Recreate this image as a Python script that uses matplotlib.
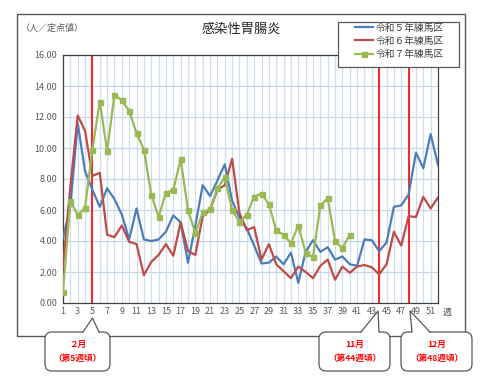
import matplotlib
matplotlib.use("Agg")
import matplotlib.pyplot as plt
from matplotlib.patches import FancyBboxPatch, Rectangle, Polygon
from matplotlib.lines import Line2D

plt.rcParams["font.family"] = ["Noto Sans CJK JP", "DejaVu Sans"]

W, H = 490, 386

# weekly values (per sentinel)
weeks_all = list(range(1, 53))
r5_nerima = [4.2, 6.2, 11.6, 8.5, 7.3, 6.2, 7.4, 6.7, 5.7, 4.1,
             6.1, 4.1, 4.0, 4.1, 4.6, 5.65, 5.2, 2.6, 5.0, 7.6,
             6.9, 7.9, 8.95, 6.6, 5.5, 4.8, 3.7, 2.55, 2.6, 3.0,
             2.5, 3.25, 1.3, 3.3, 4.05, 3.3, 3.6, 2.8, 3.0, 2.5,
             2.4, 4.1, 4.05, 3.35, 3.9, 6.2, 6.3, 7.0, 9.7, 8.7,
             10.9, 8.9]
r6_nerima = [2.3, 7.5, 12.1, 11.1, 8.2, 8.4, 4.4, 4.25, 5.0, 3.95,
             3.8, 1.8, 2.65, 3.1, 3.8, 3.05, 5.2, 3.35, 3.1, 5.6,
             6.0, 7.3, 7.6, 9.3, 5.8, 4.7, 4.9, 2.8, 3.8, 2.5,
             2.05, 1.6, 2.35, 2.0, 1.6, 2.4, 2.8, 1.5, 2.35, 1.95,
             2.35, 2.45, 2.3, 1.85, 2.5, 4.6, 3.7, 5.6, 5.55, 6.85,
             6.1, 6.8]
weeks_r7 = list(range(1, 41))
r7_nerima = [0.74, 6.6, 5.67, 6.15, 9.9, 13.0, 9.8, 13.45, 13.07, 12.4,
             10.95, 9.9, 7.0, 5.55, 7.1, 7.3, 9.26, 6.0, 4.5, 5.85,
             6.05, 7.4, 8.1, 5.97, 5.24, 5.7, 6.86, 7.06, 6.36, 4.7,
             4.4, 3.85, 5.0, 3.25, 2.95, 6.3, 6.75, 4.0, 3.55, 4.4]

series_labels = ["令和５年練馬区", "令和６年練馬区", "令和７年練馬区"]
marker_weeks = [5, 44, 48]
callout_lines = [("２月", "（第5週頃）"), ("11月", "（第44週頃）"), ("12月", "（第48週頃）")]

c_blue = "#4a7ebb"
c_red = "#be4b48"
c_green = "#98b954"
grey = "#595959"

fig = plt.figure(figsize=(W / 100, H / 100), dpi=100)

# ------------------------------------------------------------------
# main plot area
# ------------------------------------------------------------------
ax = fig.add_axes([63 / W, 1 - 303 / H, 375 / W, 248 / H], zorder=1)
ax.set_xlim(1, 52)
ax.set_ylim(0, 16)

for w in range(2, 52):
    ax.axvline(w, color="#d0ddef", lw=0.9, zorder=0)
for yv in range(2, 16, 2):
    ax.axhline(yv, color="#c8d6ea", lw=0.9, zorder=0)

for w in marker_weeks:
    ax.axvline(w, color="#ff0000", lw=1.2, zorder=2)

h5, = ax.plot(weeks_all, r5_nerima, color=c_blue, lw=1.6, zorder=3)
h6, = ax.plot(weeks_all, r6_nerima, color=c_red, lw=1.6, zorder=3)
h7, = ax.plot(weeks_r7, r7_nerima, color=c_green, lw=1.6, marker="s",
              ms=3.6, zorder=4)

ax.set_yticks(range(0, 17, 2))
ax.set_yticklabels([f"{v:.2f}" for v in range(0, 17, 2)])
ax.set_xticks(range(1, 52, 2))
ax.tick_params(length=0, labelsize=6.5, labelcolor=grey)
ax.tick_params(axis="y", pad=4)
ax.tick_params(axis="x", pad=3)
for s in ax.spines.values():
    s.set_color("#404040")
    s.set_linewidth(0.9)

# ------------------------------------------------------------------
# overlay in pixel coordinates: frame, titles, legend box, callouts
# ------------------------------------------------------------------
ov = fig.add_axes([0, 0, 1, 1], zorder=3)
ov.set_xlim(0, W)
ov.set_ylim(H, 0)
ov.axis("off")
ov.patch.set_alpha(0)

ov.add_patch(Rectangle((17, 14), 448, 322, fill=False, ec=grey, lw=1.0, zorder=1))
ov.text(241, 29, "感染性胃腸炎", ha="center", va="center", fontsize=9.5, color="#262626")
ov.text(21, 28, "（人／定点値）", ha="left", va="center", fontsize=6.5, color=grey)
ov.text(447, 312, "週", ha="center", va="center", fontsize=6.5, color=grey)

# legend frame
ov.add_patch(Rectangle((338, 22), 121, 45, fc="white", ec=grey, lw=0.9, zorder=2))

# callouts
boxes = [(45, 110, 83, 99, 92.5, 318),
         (319, 390, 361, 379, 378, 311),
         (401, 472, 412, 430, 410, 311)]
for (x0, x1, b0, b1, tx, ty), (l1, l2) in zip(boxes, callout_lines):
    ov.add_patch(FancyBboxPatch((x0, 332), x1 - x0, 39,
                                boxstyle="round,pad=0,rounding_size=7",
                                fc="white", ec=grey, lw=0.9, zorder=3))
    ov.add_patch(Polygon([(b0, 333), (tx, ty), (b1, 333)], closed=True,
                         fc="white", ec="none", zorder=4))
    ov.add_line(Line2D([b0, tx, b1], [332, ty, 332], color=grey, lw=0.9, zorder=5))
    cx = (x0 + x1) / 2
    ov.text(cx, 344, l1, ha="center", va="center", fontsize=6.2,
            color="#ff0000", fontweight="bold", zorder=6)
    ov.text(cx, 358, l2, ha="center", va="center", fontsize=6.2,
            color="#ff0000", fontweight="bold", zorder=6)

leg = fig.legend([h5, h6, h7], series_labels, loc="upper left",
                 bbox_to_anchor=(355 / W, 1 - 22.5 / H), frameon=False,
                 fontsize=7, handlelength=1.9, handletextpad=0.25,
                 labelspacing=0.35, borderpad=0, borderaxespad=0)
leg.set_zorder(10)
for t in leg.get_texts():
    t.set_color("#404040")

fig.savefig("out.png", dpi=100)
